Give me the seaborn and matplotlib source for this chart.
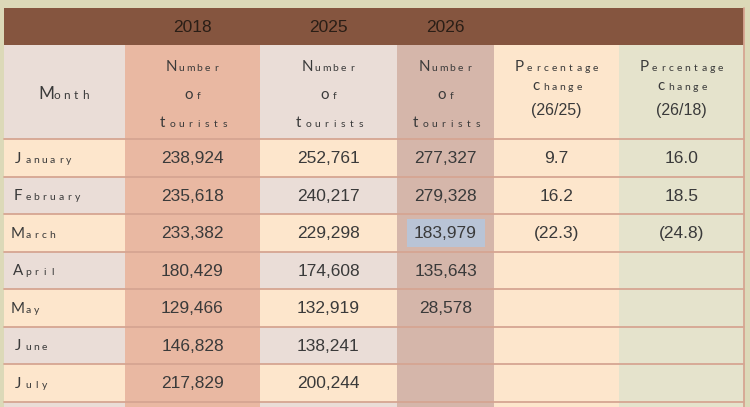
import matplotlib
matplotlib.use("Agg")
import matplotlib.pyplot as plt
import matplotlib.patches as patches
import seaborn as sns

# %% data
years = ["2018", "2025", "2026"]
months = ["January", "February", "March", "April", "May", "June", "July", ""]
tourists_2018 = ["238,924", "235,618", "233,382", "180,429", "129,466", "146,828", "217,829", ""]
tourists_2025 = ["252,761", "240,217", "229,298", "174,608", "132,919", "138,241", "200,244", ""]
tourists_2026 = ["277,327", "279,328", "183,979", "135,643", "28,578", "", "", ""]
pct_26_25 = ["9.7", "16.2", "(22.3)", "", "", "", "", ""]
pct_26_18 = ["16.0", "18.5", "(24.8)", "", "", "", "", ""]

# %% layout (pixels)
col_edges = [4, 125, 260, 397, 494, 619, 744]
top, head1, head2 = 8, 45, 139
row_h = 37.5

bg = "#dcd9b8"
brown = "#85553f"
peach = "#fde6cc"
greyrose = "#eaddd7"
c2018 = "#e9b8a2"
c2026 = "#d5b6aa"
cpct2 = "#e5e3cc"
highlight = "#b9c4d6"
line_c = "#d6a592"
txt = "#3a3a3a"

sns.set_theme(style="white")
plt.rcParams["font.family"] = ["Liberation Sans", "DejaVu Sans"]

fig = plt.figure(figsize=(7.5, 4.07), dpi=100, facecolor=bg)
ax = fig.add_axes([0, 0, 1, 1])
ax.set_xlim(0, 750)
ax.set_ylim(407, 0)
ax.axis("off")


def rect(x0, y0, x1, y1, color, z=1):
    ax.add_patch(patches.Rectangle((x0, y0), x1 - x0, y1 - y0, facecolor=color,
                                   edgecolor="none", zorder=z))


def spaced(x, y, word, size=8.5, gap=9.2, align="center", color=txt):
    # letter-spaced text, first letter larger
    big = size * 1.45
    widths = [gap * 1.45] + [gap] * (len(word) - 1)
    total = sum(widths)
    cx = x - total / 2 if align == "center" else x
    for i, ch in enumerate(word):
        ax.text(cx + widths[i] / 2, y, ch, fontsize=big if i == 0 else size,
                ha="center", va="baseline", color=color, zorder=5,
                family=["Lato", "DejaVu Sans"])
        cx += widths[i]


# header band
rect(col_edges[0], top, col_edges[-1], head1, brown)
for i, yr in enumerate(years):
    xc = (col_edges[i + 1] + col_edges[i + 2]) / 2
    ax.text(xc, (top + head1) / 2 + 1, yr, fontsize=12.5, ha="center", va="center",
            color="#2a1e16", zorder=5)

# column colours
col_colors = [None, c2018, None, c2026, peach, cpct2]
n_rows = len(months)
bottom = head2 + row_h * n_rows
for i, cc in enumerate(col_colors):
    x0, x1 = col_edges[i], col_edges[i + 1]
    if cc is None:
        rect(x0, head1, x1, head2, greyrose)
        for r in range(n_rows):
            y0 = head2 + r * row_h
            rect(x0, y0, x1, y0 + row_h, peach if r % 2 == 0 else greyrose)
    else:
        rect(x0, head1, x1, bottom, cc)

# sub headers
spaced((col_edges[0] + col_edges[1]) / 2, 99, "Month")
for i in range(1, 4):
    xc = (col_edges[i] + col_edges[i + 1]) / 2
    spaced(xc, 71, "Number", size=7.5, gap=8.6)
    spaced(xc, 99, "of", size=7.5, gap=8.6)
    spaced(xc, 127, "tourists", size=7.5, gap=8.6)
for i, lab in zip([4, 5], ["(26/25)", "(26/18)"]):
    xc = (col_edges[i] + col_edges[i + 1]) / 2
    spaced(xc, 71, "Percentage", size=7.5, gap=8.2)
    spaced(xc, 90, "change", size=7.5, gap=8.2)
    ax.text(xc, 111, lab, fontsize=11.5, ha="center", va="center", color=txt, zorder=5)

# body
cols = [tourists_2018, tourists_2025, tourists_2026, pct_26_25, pct_26_18]
for r in range(n_rows):
    yc = head2 + (r + 0.5) * row_h
    if months[r]:
        spaced(12, yc + 5, months[r], size=7.5, gap=8.2, align="left")
    for j, col in enumerate(cols):
        val = col[r]
        if not val:
            continue
        xc = (col_edges[j + 1] + col_edges[j + 2]) / 2
        if j == 2 and r == 2:
            rect(xc - 39, yc - 14, xc + 39, yc + 14, highlight, z=2)
        ax.text(xc, yc + 1, val, fontsize=12.5, ha="center", va="center",
                color=txt, zorder=5)

# grid lines
for r in range(n_rows + 1):
    y = head2 + r * row_h
    ax.plot([col_edges[0], col_edges[-1]], [y, y], color=line_c, lw=1.3, zorder=3)
ax.plot([col_edges[-1], col_edges[-1]], [top, bottom], color=line_c, lw=1.3, zorder=3)

fig.savefig("out.png", dpi=100, facecolor=bg)
